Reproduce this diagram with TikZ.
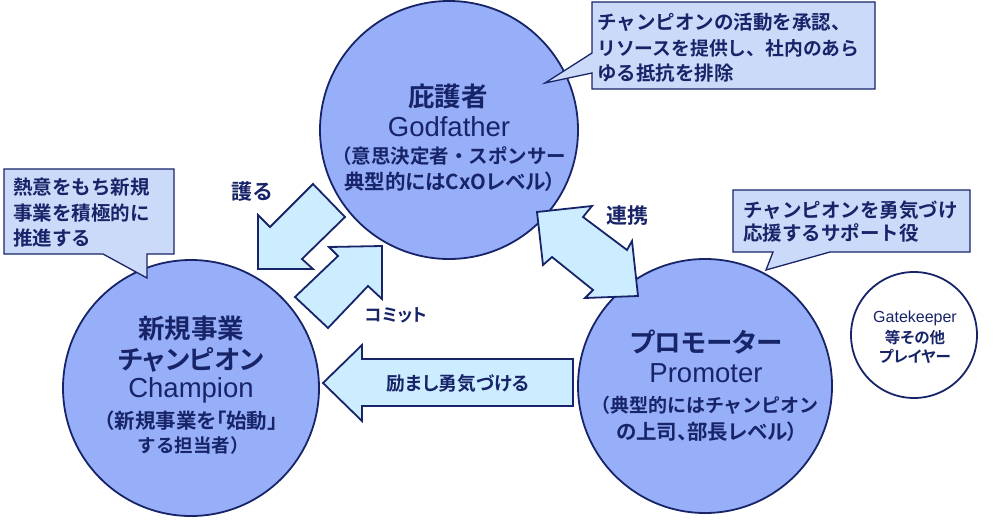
\documentclass[tikz,border=0pt]{standalone}
\usepackage{fontspec}
\setmainfont{Liberation Sans}
\newfontfamily\jpp{Noto Sans CJK JP}[BoldFont={Noto Sans CJK JP Bold},RawFeature=+palt]
\newfontfamily\jp{Noto Sans CJK JP}[BoldFont={Noto Sans CJK JP Bold}]
\definecolor{navy}{RGB}{24,36,104}
\definecolor{circfill}{RGB}{151,174,248}
\definecolor{arrowfill}{RGB}{204,236,255}
\definecolor{callfill}{RGB}{204,218,250}
\begin{document}
\begin{tikzpicture}[x=1pt,y=-1pt,
  bigc/.style={circle,draw=navy,line width=1.8pt,fill=circfill,inner sep=0pt},
  smallc/.style={circle,draw=navy,line width=1.8pt,fill=white,inner sep=0pt},
  blockarrow/.style={draw=navy,line width=1.8pt,fill=arrowfill,line join=miter},
  callout/.style={draw=navy,line width=1.3pt,fill=callfill,line join=miter},
  t/.style={text=navy,inner sep=0pt,anchor=center},
  tl/.style={text=navy,inner sep=0pt,anchor=west},
  ttl/.style={font=\jpp\bfseries\fontsize{26.5}{30}\selectfont},
  ten/.style={font=\fontsize{27.5}{30}\selectfont},
  tsub/.style={font=\jp\bfseries\fontsize{19.5}{24}\selectfont},
  tsubp/.style={font=\jpp\bfseries\fontsize{20.5}{24}\selectfont},
  tcall/.style={font=\jp\bfseries\fontsize{19.5}{24}\selectfont},
  tlab/.style={font=\jpp\bfseries\fontsize{21}{24}\selectfont}
]
\useasboundingbox (0,0) rectangle (1008,527);

% circles
\node[bigc,minimum size=258pt] (god) at (449,130) {};
\node[bigc,minimum size=256pt] (champ) at (191,388) {};
\node[bigc,minimum size=254pt] (prom) at (705,386) {};
\node[smallc,minimum size=126pt] (gate) at (914,335) {};

% block arrows
\draw[blockarrow] (258,269) -- (258,215) -- (270,227) -- (313,184) -- (345,217) -- (302,259) -- (313,269) -- cycle;
\draw[blockarrow] (382,246) -- (382,299) -- (368,286) -- (328,328) -- (295,297) -- (338,256) -- (329,247) -- cycle;
\draw[blockarrow] (537,212) -- (592,206) -- (583,217) -- (627,250) -- (632,241) -- (638,296) -- (585,298) -- (593,290) -- (552,257) -- (543,265) -- cycle;
\draw[blockarrow] (323,383) -- (362,345) -- (362,359) -- (573,359) -- (573,406) -- (362,406) -- (362,421) -- cycle;

% callouts
\draw[callout] (592,2) -- (875,2) -- (875,89) -- (592,89) -- (592,73) -- (545,83) -- (592,53) -- cycle;
\draw[callout] (4,169) -- (174,169) -- (174,254) -- (147,254) -- (147,278) -- (103,254) -- (4,254) -- cycle;
\draw[callout] (733,190) -- (970,190) -- (970,252) -- (830,252) -- (766,270) -- (773,252) -- (733,252) -- cycle;

% Godfather text
\node[t,ttl] (g1) at (448,96) {庇護者};
\node[t,ten] (g2) at (449,127) {Godfather};
\node[t,tsub] (g3) at (449,156) {（意思決定者・スポンサー};
\node[t,tsubp] (g4) at (450,182) {典型的にはCxOレベル）};

% Champion text
\node[t,ttl] (c1) at (191,328) {新規事業};
\node[t,ttl] (c2) at (191,360) {チャンピオン};
\node[t,ten] (c3) at (191,390) {Champion};
\node[t,tsubp] (c4) at (191,421) {（新規事業を「始動」};
\node[t,tsub,font=\jp\bfseries\fontsize{18.5}{24}\selectfont] (c5) at (193,445) {する担当者）};

% Promoter text
\node[t,ttl] (p1) at (706,342) {プロモーター};
\node[t,ten] (p2) at (706,373) {Promoter};
\node[t,tsub,font=\jp\bfseries\fontsize{19}{24}\selectfont] (p3) at (705,405) {（典型的にはチャンピオン};
\node[t,tsubp] (p4) at (707,432) {の上司、部長レベル）};

% Gatekeeper text
\node[t,font=\fontsize{16}{18}\selectfont] (k1) at (915,318) {Gatekeeper};
\node[t,font=\jpp\bfseries\fontsize{15.5}{18}\selectfont] (k2) at (915,338) {等その他};
\node[t,font=\jpp\bfseries\fontsize{15.5}{18}\selectfont] (k3) at (915,356) {プレイヤー};

% callout texts
\node[tl,tcall] (a1) at (597,22) {チャンピオンの活動を承認、};
\node[tl,tcall,font=\jp\bfseries\fontsize{18.8}{24}\selectfont] (a2) at (597,48) {リソースを提供し、社内のあら};
\node[tl,tcall] (a3) at (597,73) {ゆる抵抗を排除};
\node[tl,tcall] (b1) at (13,187) {熱意をもち新規};
\node[tl,tcall] (b2) at (13,213) {事業を積極的に};
\node[tl,tcall] (b3) at (13,238) {推進する};
\node[tl,tcall] (d1) at (743,210) {チャンピオンを勇気づけ};
\node[tl,tcall] (d2) at (743,233) {応援するサポート役};

% arrow labels
\node[t,tlab] (l1) at (252,192) {護る};
\node[t,tlab,font=\jpp\bfseries\fontsize{17.5}{24}\selectfont] (l2) at (396,315) {コミット};
\node[t,tlab] (l3) at (627,216) {連携};
\node[t,font=\jpp\bfseries\fontsize{18.7}{22}\selectfont] (l4) at (458,383) {励まし勇気づける};
\end{tikzpicture}
\end{document}
